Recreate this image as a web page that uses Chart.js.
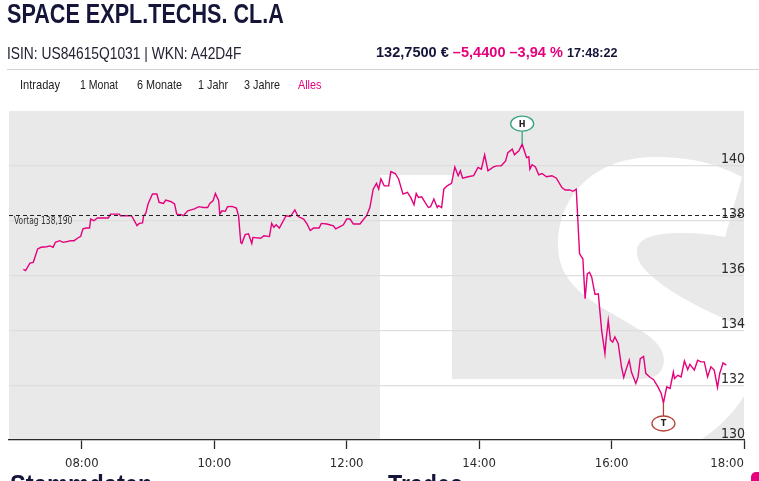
<!DOCTYPE html>
<html><head><meta charset="utf-8">
<script src="https://cdn.jsdelivr.net/npm/chart.js@4.4.1/dist/chart.umd.min.js"></script>
<style>
html,body{margin:0;padding:0;background:#fff;width:759px;height:481px;overflow:hidden;font-family:"Liberation Sans",Arial,sans-serif;}
canvas{position:absolute;left:0;top:0;}
.t{position:absolute;white-space:nowrap;line-height:1;transform-origin:0 0;}
.tab{font-size:13.5px;color:#222;top:78px;}
</style></head><body>
<canvas id="c" width="759" height="481"></canvas>
<div class="t" style="left:7px;top:1px;font-size:27px;font-weight:bold;color:#15153a;transform:scaleX(0.8);">SPACE EXPL.TECHS. CL.A</div>
<div class="t" style="left:7px;top:45px;font-size:16.5px;color:#222233;transform:scaleX(0.836);">ISIN: US84615Q1031 | WKN: A42D4F</div>
<div class="t" style="left:376px;top:44px;font-size:15px;font-weight:bold;color:#15153a;transform:scaleX(0.97);">132,7500 € <span style="color:#e5007d">–5,4400 –3,94 %</span> <span style="font-size:13px;">17:48:22</span></div>
<div style="position:absolute;left:7px;top:69px;width:752px;height:1px;background:#d2d2d2;"></div>
<div class="t tab" style="left:20px;transform:scaleX(0.82);">Intraday</div>
<div class="t tab" style="left:80px;transform:scaleX(0.78);">1 Monat</div>
<div class="t tab" style="left:137px;transform:scaleX(0.8);">6 Monate</div>
<div class="t tab" style="left:198px;transform:scaleX(0.8);">1 Jahr</div>
<div class="t tab" style="left:244px;transform:scaleX(0.8);">3 Jahre</div>
<div class="t tab" style="left:298px;color:#e5007d;transform:scaleX(0.8);">Alles</div>
<div class="t" style="left:10px;top:472px;font-size:27px;font-weight:bold;color:#15153a;transform:scaleX(0.88);">Stammdaten</div>
<div class="t" style="left:388px;top:472px;font-size:27px;font-weight:bold;color:#15153a;transform:scaleX(0.86);">Trades</div>
<div style="position:absolute;left:751px;top:472px;width:14px;height:16px;border-radius:5px;background:#e5007d;"></div>
<script>
// ---- data ----
const times = ["07:07","07:09","07:13","07:16","07:20","07:23","07:28","07:31","07:34","07:36","07:40","07:43","07:47","07:50","07:53","07:56","07:59",
"08:01","08:04","08:07","08:08","08:11","08:14","08:19","08:24","08:26","08:34","08:35","08:45","08:50","08:52","08:55","08:56","08:58",
"09:00","09:04","09:08","09:10","09:14","09:16","09:21","09:24","09:26","09:30","09:32","09:36","09:42","09:46","09:50","09:54","09:56","09:59",
"10:01","10:04","10:05","10:07","10:10","10:12","10:16","10:20","10:22","10:24","10:25","10:28","10:31","10:34","10:35","10:42","10:45","10:50","10:52","10:54","10:56","10:59",
"11:05","11:09","11:13","11:16","11:21","11:24","11:27","11:30","11:35","11:37","11:42","11:48","11:50","11:54","11:57",
"12:00","12:03","12:06","12:12","12:18","12:21","12:24","12:27","12:29","12:31","12:34","12:38","12:40","12:44","12:47","12:51","12:55","12:58",
"13:01","13:03","13:05","13:08","13:11","13:14","13:16","13:19","13:22","13:23","13:26","13:28","13:31","13:35","13:38","13:41","13:43","13:45","13:50","13:55","13:59",
"14:02","14:05","14:08","14:13","14:16","14:20","14:24","14:26","14:30","14:32","14:36","14:39","14:43","14:45","14:46","14:48","14:51","14:54","14:57",
"15:01","15:06","15:10","15:15","15:18","15:22","15:25","15:28","15:31","15:34","15:36","15:38","15:40","15:42","15:45","15:48","15:51","15:54","15:55","15:57","15:59",
"16:01","16:03","16:06","16:09","16:11","16:13","16:16","16:18","16:22","16:24","16:26","16:29","16:31","16:35","16:38","16:42","16:45","16:47","16:50","16:53","16:56","16:57",
"17:00","17:03","17:06","17:09","17:11","17:15","17:18","17:21","17:24","17:27","17:30","17:33","17:36","17:38","17:39","17:41","17:44"];
const prices = [136.22,136.18,136.45,136.48,136.97,137.03,137.05,137.08,137.03,137.21,137.27,137.21,137.24,137.27,137.27,137.36,137.43,
137.70,137.73,137.73,138.06,138.00,138.10,138.10,138.10,138.24,138.24,138.18,138.18,137.82,137.90,137.92,138.18,138.27,
138.61,138.97,138.97,138.67,138.63,138.75,138.69,138.61,138.24,138.22,138.18,138.36,138.43,138.51,138.48,138.48,138.63,138.73,
138.99,138.73,138.24,138.36,138.34,138.51,138.52,138.46,138.18,137.21,137.17,137.49,137.52,137.17,137.39,137.36,137.45,137.42,137.90,137.76,137.85,137.73,
138.18,138.15,138.39,138.15,138.06,137.88,137.64,137.73,137.73,137.90,137.88,137.81,137.70,137.78,137.85,
138.06,138.06,137.88,137.88,138.18,138.48,139.15,139.36,139.15,139.52,139.27,139.27,139.79,139.72,139.52,138.97,139.03,138.85,
138.58,138.99,138.85,138.87,138.67,138.48,138.51,138.79,138.48,138.55,138.48,139.15,139.27,139.36,139.96,139.64,139.82,139.55,139.60,139.64,139.94,
139.88,140.40,139.82,139.96,140.00,140.00,140.18,140.48,140.61,140.40,140.55,140.79,140.30,140.33,139.88,140.04,139.96,139.67,139.72,
139.60,139.64,139.55,139.21,139.12,139.12,139.07,139.15,136.79,136.61,135.15,136.06,136.12,135.94,135.31,135.33,134.00,133.15,133.64,134.36,133.64,
133.57,133.76,133.52,132.67,132.28,132.55,132.91,132.48,132.06,132.30,132.97,133.05,132.43,132.28,132.21,131.94,131.70,131.35,131.94,131.88,132.48,132.24,
132.36,132.30,132.88,132.57,132.76,132.55,132.91,132.85,132.85,132.30,132.67,132.55,131.92,132.43,132.55,132.81,132.73];
const xTickLabels = ["08:00","10:00","12:00","14:00","16:00","18:00"];
const yTickValues = [130,132,134,136,138,140];
const xRange = ["06:54","18:00"];
const yRange = [130,142];
const vortag = 138.19;
const vortagLabel = "Vortag 138,190";

const toMin = s => { const [h,m] = s.split(":").map(Number); return h*60+m; };
const fmt = v => String(Math.floor(v/60)).padStart(2,"0")+":"+String(Math.round(v%60)).padStart(2,"0");
const FONT = '"DejaVu Sans Condensed","DejaVu Sans",sans-serif';
const MAG = '#e5007d';
const AX = '#2a2a2a';

const bgPlugin = {
  id:'bg',
  beforeDraw(chart){
    const {ctx, chartArea:a} = chart;
    ctx.save();
    ctx.fillStyle = '#e9e9e9';
    ctx.fillRect(a.left, a.top, a.right-a.left, a.bottom-a.top);
    ctx.beginPath(); ctx.rect(a.left, a.top, a.right-a.left, a.bottom-a.top); ctx.clip();
    ctx.fillStyle = '#fff';
    // "t" stem
    ctx.fillRect(380, 175, 72, a.bottom-175);
    // "S" outline
    ctx.beginPath();
    ctx.moveTo(742,177);
    ctx.bezierCurveTo(715,163, 690,157, 655,157);
    ctx.bezierCurveTo(595,157, 558,195, 558,245);
    ctx.bezierCurveTo(558,290, 600,305, 640,330);
    ctx.bezierCurveTo(665,345, 668,360, 660,372);
    ctx.bezierCurveTo(655,378, 648,379, 640,379);
    ctx.lineTo(440,379);
    ctx.lineTo(440,470);
    ctx.lineTo(640,470);
    ctx.bezierCurveTo(680,455, 745,425, 758,360);
    ctx.lineTo(760,335);
    ctx.bezierCurveTo(740,325, 700,310, 670,290);
    ctx.bezierCurveTo(645,273, 636,262, 637,250);
    ctx.bezierCurveTo(638,238, 655,233, 680,233);
    ctx.bezierCurveTo(700,233, 715,235, 725,237);
    ctx.closePath();
    ctx.fill();
    ctx.restore();
  }
};

const overlayPlugin = {
  id:'overlay',
  afterDatasetsDraw(chart){
    const {ctx, chartArea:a, scales:{x,y}} = chart;
    ctx.save();
    const vy = Math.round(y.getPixelForValue(vortag))+0.5;
    ctx.strokeStyle = '#222'; ctx.lineWidth = 1.1; ctx.setLineDash([4,3]);
    ctx.beginPath(); ctx.moveTo(a.left, vy); ctx.lineTo(a.right, vy); ctx.stroke();
    ctx.setLineDash([]);
    ctx.fillStyle = '#333'; ctx.font = '10.5px '+FONT; ctx.textBaseline = 'middle'; ctx.textAlign = 'left';
    ctx.save(); ctx.translate(a.left+5, vy+6); ctx.scale(0.8,1); ctx.fillText(vortagLabel, 0, 0); ctx.restore();
    let hi = 0, lo = 0;
    prices.forEach((p,i)=>{ if(p>prices[hi]) hi=i; if(p<prices[lo]) lo=i; });
    const mark = (i, dir, col, txt) => {
      const px = x.getPixelForValue(toMin(times[i])), py = y.getPixelForValue(prices[i]);
      const cy = py + dir*20.5;
      ctx.strokeStyle = col; ctx.lineWidth = 1.3;
      ctx.beginPath(); ctx.moveTo(px, py); ctx.lineTo(px, cy - dir*7.5); ctx.stroke();
      ctx.beginPath(); ctx.ellipse(px, cy, 11.5, 7.5, 0, 0, Math.PI*2);
      ctx.fillStyle = '#fff'; ctx.fill(); ctx.stroke();
      ctx.fillStyle = '#222'; ctx.font = 'bold 9px '+FONT; ctx.textAlign='center'; ctx.textBaseline='middle';
      ctx.fillText(txt, px, cy+0.5);
    };
    mark(hi, -1, '#3aa57c', 'H');
    mark(lo, 1, '#b2443b', 'T');
    ctx.restore();
  }
};

new Chart(document.getElementById('c'), {
  type:'line',
  data:{ datasets:[{
    data: times.map((t,i)=>({x: toMin(t), y: prices[i]})),
    borderColor: MAG, borderWidth: 1.4, pointRadius: 0, tension: 0, fill: false
  }]},
  options:{
    responsive:false, animation:false, devicePixelRatio:1,
    layout:{ padding:{ top:111, left:9, right:15, bottom:0 } },
    plugins:{ legend:{display:false}, tooltip:{enabled:false} },
    scales:{
      x:{ type:'linear', min: toMin(xRange[0]), max: toMin(xRange[1]),
        afterBuildTicks: s => { s.ticks = [{value: toMin(xRange[0])}].concat(xTickLabels.map(l => ({value: toMin(l)}))); },
        afterFit: s => { s.height = 41; s.paddingLeft = 0; s.paddingRight = 0; },
        ticks:{ callback: (v,i) => i === 0 ? '' : fmt(v), font:{family:FONT, size:13}, color:AX, padding:7, maxRotation:0, autoSkip:false, align:'inner' },
        grid:{ display:true, drawOnChartArea:false, drawTicks:true, tickLength:9, tickWidth:1.3,
               color: c => c.index === 0 ? 'rgba(0,0,0,0)' : AX,
               tickColor: c => c.index === 0 ? 'rgba(0,0,0,0)' : AX },
        border:{ display:true, color:AX, width:1.3 }
      },
      y:{ type:'linear', position:'right', min: yRange[0], max: yRange[1],
        afterBuildTicks: s => { s.ticks = yTickValues.map(v => ({value:v})); },
        afterFit: s => { s.width = 0; s.paddingTop = 0; s.paddingBottom = 0; },
        ticks:{ mirror:true, padding:1, labelOffset:-6, font:{family:FONT, size:14}, color:AX },
        grid:{ color:'#dedede', lineWidth:1.2, drawTicks:false },
        border:{ display:false }
      }
    }
  },
  plugins:[bgPlugin, overlayPlugin]
});
</script>
</body></html>
